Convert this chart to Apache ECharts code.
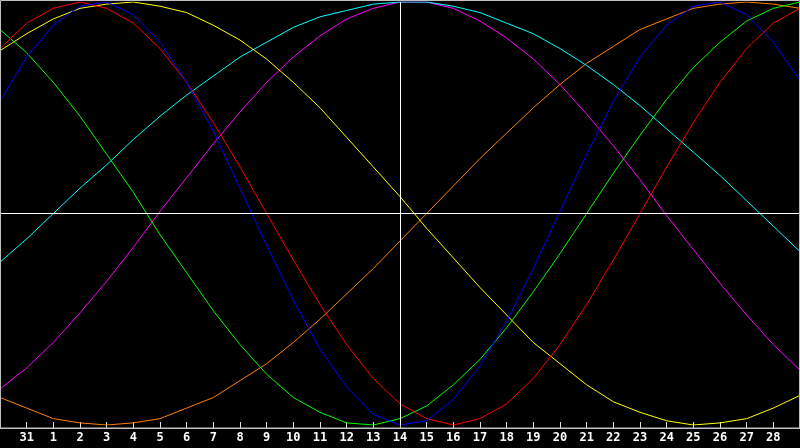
<!DOCTYPE html>
<html>
<head>
<meta charset="utf-8">
<script src="https://cdn.jsdelivr.net/npm/echarts@6/dist/echarts.min.js"></script>
<style>
html,body{margin:0;padding:0;background:#000;}
#chart{width:800px;height:448px;}
</style>
</head>
<body>
<div id="chart"></div>
<script>
const days = ['30','31','1','2','3','4','5','6','7','8','9','10','11','12','13','14','15','16','17','18','19','20','21','22','23','24','25','26','27','28','29'];
const red = [78,90,97,100,97,90,78,62,43,22,0,-22,-43,-62,-78,-90,-97,-100,-97,-90,-78,-62,-43,-22,0,22,43,62,78,90,97];
const blue = [53,74,89,98,100,94,81,62,39,12,-15,-41,-64,-82,-95,-100,-98,-88,-72,-51,-26,1,28,53,74,89,98,100,94,81,63];
const green = [87,76,62,46,28,10,-10,-28,-46,-62,-76,-87,-94,-99,-100,-97,-91,-81,-69,-54,-37,-19,0,19,37,54,69,81,91,97,100];
const yellow = [77,85,92,97,99,100,98,95,89,82,73,62,50,36,22,8,-7,-21,-35,-48,-61,-71,-81,-89,-94,-98,-100,-99,-97,-92,-86];
const cyan = [-23,-12,0,12,23,35,46,56,65,74,81,88,93,96,99,100,100,98,95,90,85,78,70,61,51,40,29,18,6,-6,-18];
const magenta = [-83,-73,-61,-47,-32,-16,1,17,33,48,62,74,84,92,97,100,100,97,91,83,73,61,47,32,16,-1,-17,-33,-48,-62,-74];
const orange = [-87,-92,-97,-99,-100,-99,-97,-92,-87,-79,-71,-61,-50,-38,-26,-13,0,13,26,38,50,61,71,79,87,92,97,99,100,99,97];
const today = '14';

const chart = echarts.init(document.getElementById('chart'));
function line(name, data, color, extra) {
  return Object.assign({
    name: name, type: 'line', data: data, symbol: 'none', smooth: false,
    lineStyle: {color: color, width: 1}, itemStyle: {color: color}, silent: true
  }, extra || {});
}
const showInner = function (i) { return i > 0 && i < days.length - 1; };
chart.setOption({
  backgroundColor: '#000',
  animation: false,
  grid: {left: 0, right: 0, top: 2, bottom: 23, containLabel: false},
  xAxis: {
    type: 'category', data: days, boundaryGap: false, offset: 3,
    axisLine: {show: true, onZero: false, lineStyle: {color: '#c0c0c0', width: 1}},
    axisTick: {show: true, inside: true, length: 6, lineStyle: {color: '#e0e0e0'}, interval: showInner},
    axisLabel: {color: '#fff', fontFamily: 'DejaVu Sans Mono', fontWeight: 'bold', fontSize: 12,
      lineHeight: 12, margin: 4, interval: showInner},
    splitLine: {show: false}
  },
  yAxis: {type: 'value', min: -100, max: 100, show: false, splitLine: {show: false}},
  graphic: [{
    type: 'rect', silent: true, z: 100,
    shape: {x: 0.5, y: 0.5, width: 799, height: 427.5},
    style: {fill: 'none', stroke: '#c0c0c0', lineWidth: 1}
  }],
  series: [
    line('orange', orange, '#ff8000', {
      markLine: {silent: true, symbol: 'none', label: {show: false},
        lineStyle: {color: '#fff', width: 1, type: 'solid'},
        data: [{xAxis: today}, {yAxis: 0}]}
    }),
    line('magenta', magenta, '#ff00ff'),
    line('cyan', cyan, '#00ffff'),
    line('yellow', yellow, '#ffff00'),
    line('green', green, '#00ff00'),
    line('red', red, '#ff0000'),
    line('blue', blue, '#0000ff')
  ]
});
</script>
</body>
</html>
